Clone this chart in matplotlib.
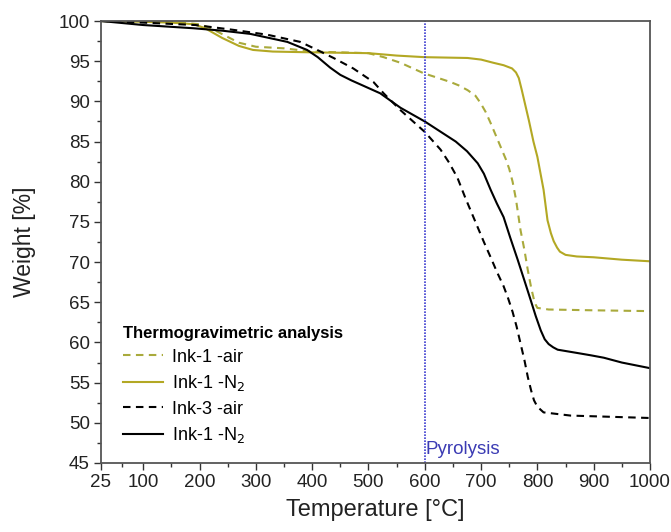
import matplotlib

matplotlib.use("Agg")
import matplotlib.pyplot as plt
from matplotlib.ticker import FixedLocator, MultipleLocator

plt.rcParams["font.family"] = ["Liberation Sans", "DejaVu Sans"]

# TGA curves, temperature [°C] vs remaining weight [%]
temp_ink1_air = [25, 100, 150, 200, 220, 245, 270, 300, 350, 400, 450, 500, 527, 557, 598, 620,
                 646, 660, 676, 690, 699, 708, 717, 726, 735, 744, 750, 756, 762, 770, 777, 783,
                 789, 794, 797, 800, 820, 900, 1000]
weight_ink1_air = [100, 100, 99.9, 99.6, 99.1, 98.2, 97.3, 96.8, 96.6, 96.2, 96.1, 96.0, 95.5, 94.8, 93.5, 93.0,
                   92.4, 92.0, 91.4, 90.7, 89.8, 88.7, 87.3, 85.8, 84.3, 82.8, 81.6, 80.0, 77.8, 74.0, 71.5, 69.0,
                   66.8, 65.3, 64.7, 64.3, 64.1, 64.0, 63.9]

temp_ink1_n2 = [25, 100, 150, 190, 210, 240, 270, 295, 330, 400, 500, 550, 600, 676, 700, 722, 740,
                755, 762, 767, 772, 778, 785, 793, 800, 811, 818, 824, 829, 835, 840, 850, 870, 900,
                950, 1000]
weight_ink1_n2 = [100, 99.9, 99.8, 99.6, 99.1, 97.9, 96.9, 96.4, 96.2, 96.1, 96.0, 95.7, 95.5, 95.4, 95.2, 94.8, 94.5,
                  94.1, 93.6, 92.9, 91.5, 89.7, 87.6, 85.0, 83.1, 79.0, 75.2, 73.6, 72.6, 71.8, 71.3, 70.9, 70.7, 70.6,
                  70.3, 70.1]

temp_ink3_air = [25, 100, 193, 260, 320, 379, 409, 438, 473, 509, 527, 557, 600, 628, 643, 658,
                 672, 687, 696, 705, 717, 728, 740, 748, 756, 763, 770, 777, 783, 789, 794, 800,
                 811, 859, 1000]
weight_ink3_air = [100, 99.8, 99.5, 98.9, 98.3, 97.4, 96.4, 95.4, 94.1, 92.4, 91.0, 88.9, 86.2, 84.0, 82.4, 80.5,
                   78.0, 75.5, 74.0, 72.5, 70.6, 68.8, 67.0, 65.5, 63.8, 62.0, 59.9, 57.8, 55.7, 54.0, 52.8, 52.0,
                   51.3, 50.9, 50.6]

temp_ink1_n2_b = [25, 100, 189, 240, 290, 356, 391, 410, 432, 450, 470, 486, 521, 557, 600, 633,
                  655, 675, 694, 705, 717, 728, 740, 752, 765, 777, 788, 797, 806, 813, 820, 828, 836,
                  870, 895, 918, 950, 1000]
weight_ink1_n2_b = [100, 99.5, 99.1, 98.8, 98.4, 97.4, 96.4, 95.5, 94.2, 93.3, 92.6, 92.1, 91.0, 89.2, 87.5, 86.0,
                    85.0, 83.8, 82.3, 81.0, 79.0, 77.3, 75.6, 73.0, 70.3, 67.7, 65.3, 63.3, 61.5, 60.4, 59.8, 59.4,
                    59.1, 58.7, 58.4, 58.1, 57.5, 56.8]

x_ticks = [25, 100, 200, 300, 400, 500, 600, 700, 800, 900, 1000]
x_minor = [62.5, 150, 250, 350, 450, 550, 650, 750, 850, 950]
pyrolysis_temp = 600

olive = "#b3a824"
olive_light = "#a9aa3c"
dash = (0, (3.6, 2.6))

fig = plt.figure(figsize=(6.71, 5.32), dpi=100)
ax = fig.add_axes([0.1505, 0.1297, 0.8182, 0.8308])

ax.plot(temp_ink1_air, weight_ink1_air, color=olive_light, lw=1.5, ls=dash, label="Ink-1 -air")
ax.plot(temp_ink1_n2, weight_ink1_n2, color=olive, lw=1.5, label="Ink-1 -N$_2$")
ax.plot(temp_ink3_air, weight_ink3_air, color="black", lw=1.5, ls=dash, label="Ink-3 -air")
ax.plot(temp_ink1_n2_b, weight_ink1_n2_b, color="black", lw=1.5, label="Ink-1 -N$_2$")

ax.axvline(pyrolysis_temp, color="#3c3cd0", lw=1.2, ls=(0, (1, 0.8)))
ax.text(pyrolysis_temp + 2, 45.6, "Pyrolysis", color="#3c3cb4", fontsize=13.5, va="bottom", ha="left")

ax.set_xlim(25, 1000)
ax.set_ylim(45, 100)
ax.xaxis.set_major_locator(FixedLocator(x_ticks))
ax.xaxis.set_minor_locator(FixedLocator(x_minor))
ax.yaxis.set_major_locator(MultipleLocator(5))
ax.yaxis.set_minor_locator(MultipleLocator(2.5))
ax.tick_params(which="major", direction="out", length=5, width=1, labelsize=13.5, colors="#333333",
               labelcolor="#222222", pad=3)
ax.tick_params(which="minor", direction="out", length=3, width=1, colors="#333333")

for spine in ax.spines.values():
    spine.set_color("#555555")
    spine.set_linewidth(1.3)

ax.set_xlabel("Temperature [°C]", fontsize=17, color="#222222", labelpad=6)
ax.set_ylabel("Weight [%]", fontsize=16.5, color="#222222", labelpad=16)

leg = ax.legend(title="Thermogravimetric analysis", loc="upper left", bbox_to_anchor=(0.04, 0.31),
                frameon=False, fontsize=13, handlelength=2.2, handletextpad=0.5, labelspacing=0.42,
                borderpad=0, borderaxespad=0, alignment="left",
                title_fontproperties={"weight": "bold", "size": 12})

fig.savefig("out.png", dpi=100)
